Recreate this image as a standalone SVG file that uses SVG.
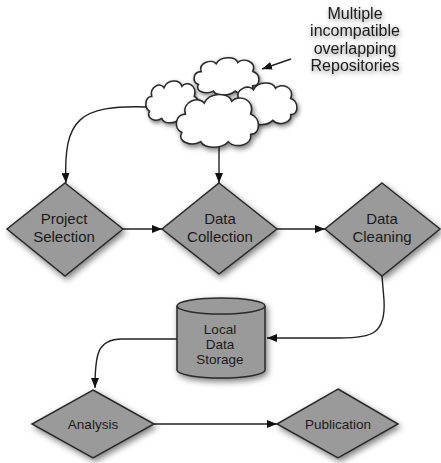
<svg xmlns="http://www.w3.org/2000/svg" width="441" height="463" viewBox="0 0 441 463">
<defs>
<style>
.dia{fill:#9a9a9a;stroke:#2a2a2a;stroke-width:1.5;filter:url(#sh)}
.cl{fill:#fff;stroke:#2a2a2a;stroke-width:1.6;filter:url(#sh)}
.t{font-family:"Liberation Sans",Arial,sans-serif;fill:#1a1a1a;text-anchor:middle}
.big{font-size:15px}
.sm{font-size:13.5px}
.note{font-size:16px;filter:url(#tsh)}
.con{fill:none;stroke:#222;stroke-width:1.4;marker-end:url(#ah)}
</style>
<filter id="sh" x="-20%" y="-20%" width="150%" height="150%">
<feDropShadow dx="2" dy="3" stdDeviation="3" flood-color="#000" flood-opacity="0.5"/>
</filter>
<filter id="tsh" x="-20%" y="-30%" width="140%" height="170%">
<feDropShadow dx="1" dy="2" stdDeviation="2.5" flood-color="#000" flood-opacity="0.45"/>
</filter>
<marker id="ah" viewBox="0 0 10 8" refX="10" refY="4" markerWidth="10" markerHeight="8" markerUnits="userSpaceOnUse" orient="auto">
<path d="M0 0 L10 4 L0 8 Z" fill="#111"/>
</marker>
<path id="cloud" vector-effect="non-scaling-stroke" d="M 12 24 C 8 10, 28 4, 34 12 C 40 0, 62 0, 66 10 C 74 2, 94 8, 88 24 C 100 28, 100 46, 88 46 C 90 58, 70 62, 62 54 C 54 62, 34 62, 30 54 C 18 60, 2 54, 8 44 C -2 40, 0 24, 12 24 Z"/>
</defs>
<rect width="441" height="463" fill="#fff"/>

<g id="connectors">
<path class="con" d="M 147 107 C 80 105, 63 118, 66 183"/>
<path class="con" d="M 219 147 L 219 183"/>
<path class="con" d="M 291 59 L 262 69"/>
<path class="con" d="M 123 229 L 162 229"/>
<path class="con" d="M 277 229 L 325 229"/>
<path class="con" d="M 382 276 L 384 300 C 386 334, 372 338, 340 338 L 267 338"/>
<path class="con" d="M 177 339 L 122 339 C 97 339, 95 355, 95 388"/>
<path class="con" d="M 154 424 L 277 424"/>
</g>

<g id="repositories">
<use href="#cloud" class="cl" transform="translate(145,79) scale(0.56,0.73)"/>
<use href="#cloud" class="cl" transform="translate(193,56) scale(0.68,0.65)"/>
<use href="#cloud" class="cl" transform="translate(230,81) scale(0.69,0.73)"/>
<use href="#cloud" class="cl" transform="translate(175,92) scale(0.86,0.92)"/>
</g>

<g id="note">
<text class="t note" x="355" y="18.5">Multiple</text>
<text class="t note" x="355" y="36">incompatible</text>
<text class="t note" x="355" y="53.5">overlapping</text>
<text class="t note" x="355" y="71">Repositories</text>
</g>

<g id="project-selection">
<polygon class="dia" points="65,183 123,229 65,276 7,229"/>
<text class="t big" x="64" y="224">Project</text>
<text class="t big" x="64" y="242">Selection</text>
</g>

<g id="data-collection">
<polygon class="dia" points="219,183 277,229 219,274 162,229"/>
<text class="t big" x="220" y="224">Data</text>
<text class="t big" x="220" y="242">Collection</text>
</g>

<g id="data-cleaning">
<polygon class="dia" points="382,183 440,229 382,276 325,229"/>
<text class="t big" x="382" y="224">Data</text>
<text class="t big" x="382" y="242">Cleaning</text>
</g>

<g id="local-data-storage">
<path class="dia" d="M 177 306 A 44 8 0 0 1 265 306 L 265 370 A 44 8 0 0 1 177 370 Z"/>
<path d="M 177 306 A 44 8 0 0 0 265 306" fill="none" stroke="#2a2a2a" stroke-width="1.5"/>
<text class="t sm" x="220" y="334">Local</text>
<text class="t sm" x="220" y="348.5">Data</text>
<text class="t sm" x="220" y="363.5">Storage</text>
</g>

<g id="analysis">
<polygon class="dia" points="93,390 154,424 93,458 32,424"/>
<text class="t sm" x="93" y="429">Analysis</text>
</g>

<g id="publication">
<polygon class="dia" points="338,389 398,424 338,458 277,424"/>
<text class="t sm" x="338" y="429">Publication</text>
</g>
</svg>
